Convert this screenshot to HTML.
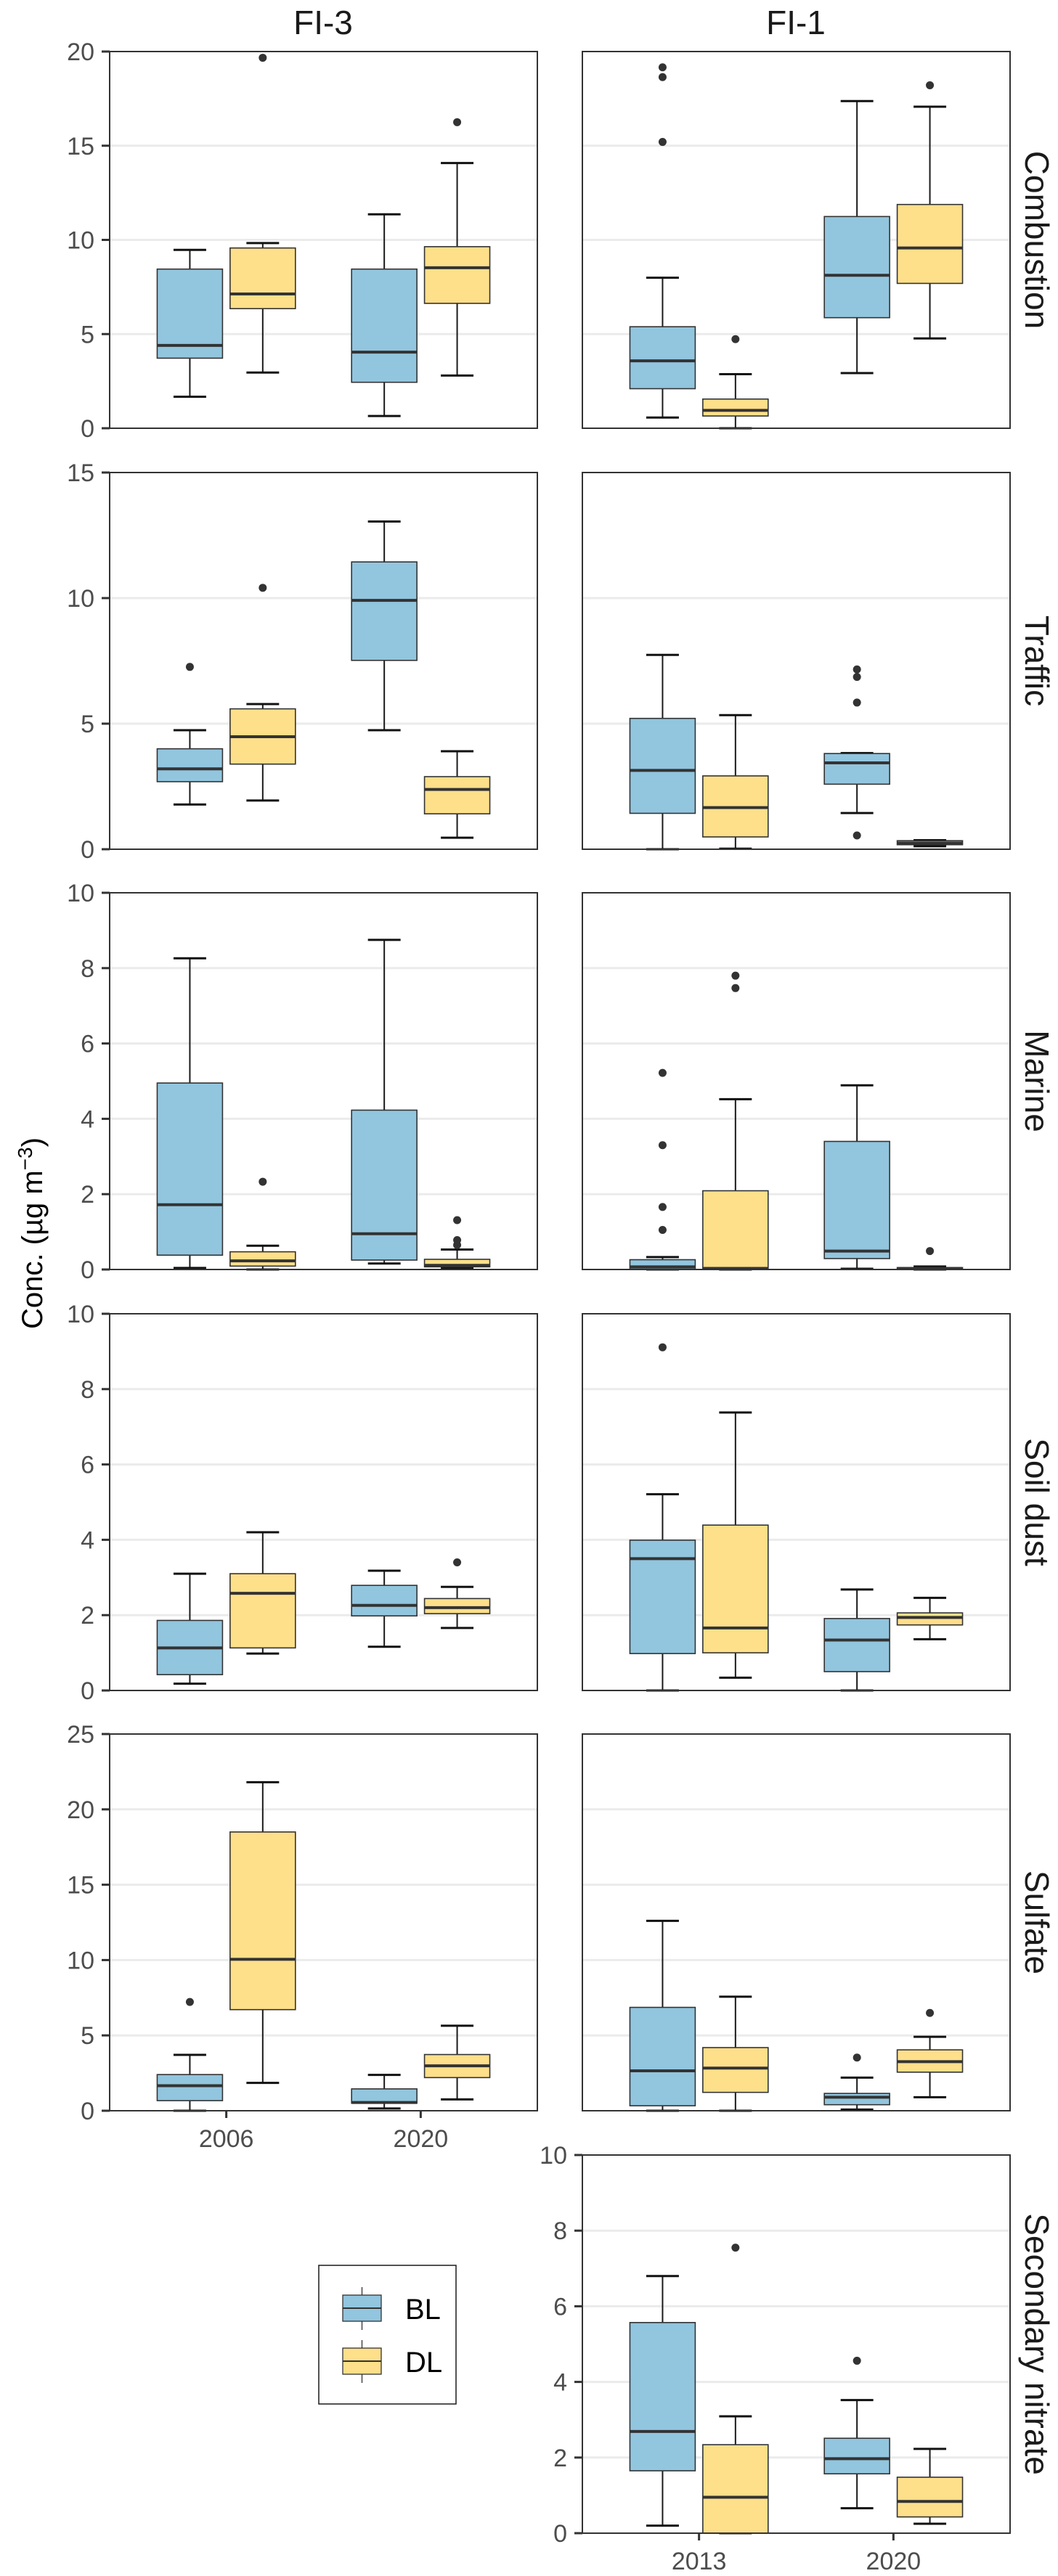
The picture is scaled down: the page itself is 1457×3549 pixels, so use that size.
<!DOCTYPE html>
<html><head><meta charset="utf-8">
<style>
html,body{margin:0;padding:0;background:#fff;}
svg{display:block;font-family:"Liberation Sans",Arial,sans-serif;}
</style></head>
<body>
<svg id="chart" width="1457" height="3549" viewBox="0 0 1457 3549" xmlns="http://www.w3.org/2000/svg">
  <text x="445" y="47" font-size="46" text-anchor="middle" fill="#1a1a1a">FI-3</text>
  <text x="1096" y="47" font-size="46" text-anchor="middle" fill="#1a1a1a">FI-1</text>
  <text transform="translate(58,1699) rotate(-90)" font-size="40" text-anchor="middle" fill="#000">Conc. (µg m<tspan dy="-14" font-size="28">−3</tspan><tspan dy="14">)</tspan></text>
  <g id="panels"></g>
  <g>
    <rect x="439" y="3121" width="189" height="191" fill="#fff" stroke="#1a1a1a" stroke-width="1.5"/>
    <g>
      <line x1="498.5" y1="3151" x2="498.5" y2="3210" stroke="#333" stroke-width="1.3"/>
      <rect x="472" y="3162" width="53" height="36" fill="#92C5DE" stroke="#333" stroke-width="1.3"/>
      <line x1="472" y1="3180" x2="525" y2="3180" stroke="#333" stroke-width="2"/>
      <text x="558" y="3195" font-size="40" fill="#000">BL</text>
    </g>
    <g>
      <line x1="498.5" y1="3224" x2="498.5" y2="3283" stroke="#333" stroke-width="1.3"/>
      <rect x="472" y="3235" width="53" height="36" fill="#FEDF8A" stroke="#333" stroke-width="1.3"/>
      <line x1="472" y1="3253" x2="525" y2="3253" stroke="#333" stroke-width="2"/>
      <text x="558" y="3268" font-size="40" fill="#000">DL</text>
    </g>
  </g>
</svg>
<script>
// group order in each panel: [year1 BL, year1 DL, year2 BL, year2 DL]; stats: [low, q1, median, q3, high]
const combustionFI3 = [[1.67,3.72,4.4,8.45,9.47],[2.96,6.35,7.13,9.57,9.83],[0.65,2.44,4.04,8.45,11.36],[2.8,6.63,8.52,9.64,14.08]];
const combustionFI3Out = [[],[19.67],[],[16.25]];
const combustionFI1 = [[0.57,2.1,3.58,5.39,7.99],[0,0.65,0.95,1.55,2.87],[2.93,5.87,8.12,11.24,17.37],[4.77,7.69,9.57,11.88,17.07]];
const combustionFI1Out = [[19.16,18.64,15.2],[4.73],[],[18.21]];
const trafficFI3 = [[1.78,2.69,3.2,4.0,4.74],[1.94,3.39,4.48,5.59,5.78],[4.74,7.52,9.91,11.44,13.05],[0.46,1.41,2.38,2.89,3.9]];
const trafficFI3Out = [[7.26],[10.41],[],[]];
const trafficFI1 = [[0,1.43,3.14,5.21,7.74],[0.02,0.49,1.66,2.92,5.34],[1.44,2.59,3.44,3.81,3.83],[0.12,0.18,0.25,0.34,0.36]];
const trafficFI1Out = [[],[],[7.16,6.86,5.84,0.55],[]];
const marineFI3 = [[0.04,0.38,1.72,4.95,8.26],[0,0.09,0.23,0.47,0.63],[0.16,0.25,0.95,4.23,8.75],[0.03,0.07,0.11,0.27,0.53]];
const marineFI3Out = [[],[2.33],[],[1.31,0.78,0.65]];
const marineFI1 = [[0,0.01,0.07,0.26,0.33],[0,0.01,0.03,2.09,4.52],[0.02,0.29,0.49,3.4,4.89],[0,0.01,0.03,0.05,0.08]];
const marineFI1Out = [[5.22,3.3,1.66,1.05],[7.8,7.47],[],[0.49]];
const soilFI3 = [[0.18,0.42,1.13,1.86,3.1],[0.98,1.13,2.58,3.1,4.2],[1.16,1.98,2.26,2.79,3.18],[1.66,2.04,2.2,2.44,2.75]];
const soilFI3Out = [[],[],[],[3.4]];
const soilFI1 = [[0,0.98,3.5,3.99,5.21],[0.34,1.0,1.66,4.39,7.38],[0,0.5,1.34,1.91,2.68],[1.36,1.74,1.94,2.06,2.46]];
const soilFI1Out = [[9.11],[],[],[]];
const sulfateFI3 = [[0,0.67,1.66,2.4,3.71],[1.85,6.71,10.05,18.5,21.8],[0.15,0.5,0.55,1.45,2.38],[0.75,2.2,2.98,3.73,5.64]];
const sulfateFI3Out = [[7.22],[],[],[]];
const sulfateFI1 = [[0,0.33,2.65,6.86,12.6],[0,1.22,2.83,4.19,7.57],[0.08,0.4,0.9,1.15,2.2],[0.9,2.56,3.26,4.04,4.91]];
const sulfateFI1Out = [[],[],[3.53],[6.49]];
const nitrateFI1 = [[0.2,1.65,2.69,5.57,6.8],[0,0,0.95,2.34,3.09],[0.66,1.57,1.97,2.51,3.52],[0.25,0.43,0.84,1.48,2.23]];
const nitrateFI1Out = [[],[7.55],[4.56],[]];
const yearsFI3 = ["2006","2020"];
const yearsFI1 = ["2013","2020"];
const combustionTicks = [0,5,10,15,20];
const trafficTicks = [0,5,10,15];
const marineTicks = [0,2,4,6,8,10];
const soilTicks = [0,2,4,6,8,10];
const sulfateTicks = [0,5,10,15,20,25];
const nitrateTicks = [0,2,4,6,8,10];

const NS = "http://www.w3.org/2000/svg";
const root = document.getElementById("panels");
function mk(tag, attrs, parent){ const e=document.createElementNS(NS,tag); for(const k in attrs) e.setAttribute(k,attrs[k]); parent.appendChild(e); return e; }

const COLS = [151, 802], PW = 589;
const ROWS = [71, 651, 1230, 1810, 2389, 2969], PH = 519;
const FILL = ["#92C5DE", "#FEDF8A"];

const panelDefs = [
  {key:"combustion-fi3", row:0,col:0,stats:combustionFI3,out:combustionFI3Out,ticks:combustionTicks,labels:true},
  {key:"combustion-fi1", row:0,col:1,stats:combustionFI1,out:combustionFI1Out,ticks:combustionTicks,labels:false,strip:"Combustion"},
  {key:"traffic-fi3", row:1,col:0,stats:trafficFI3,out:trafficFI3Out,ticks:trafficTicks,labels:true},
  {key:"traffic-fi1", row:1,col:1,stats:trafficFI1,out:trafficFI1Out,ticks:trafficTicks,labels:false,strip:"Traffic"},
  {key:"marine-fi3", row:2,col:0,stats:marineFI3,out:marineFI3Out,ticks:marineTicks,labels:true},
  {key:"marine-fi1", row:2,col:1,stats:marineFI1,out:marineFI1Out,ticks:marineTicks,labels:false,strip:"Marine"},
  {key:"soil-fi3", row:3,col:0,stats:soilFI3,out:soilFI3Out,ticks:soilTicks,labels:true},
  {key:"soil-fi1", row:3,col:1,stats:soilFI1,out:soilFI1Out,ticks:soilTicks,labels:false,strip:"Soil dust"},
  {key:"sulfate-fi3", row:4,col:0,stats:sulfateFI3,out:sulfateFI3Out,ticks:sulfateTicks,labels:true,xcats:yearsFI3},
  {key:"sulfate-fi1", row:4,col:1,stats:sulfateFI1,out:sulfateFI1Out,ticks:sulfateTicks,labels:false,strip:"Sulfate"},
  {key:"nitrate-fi1", row:5,col:1,stats:nitrateFI1,out:nitrateFI1Out,ticks:nitrateTicks,labels:true,strip:"Secondary nitrate",xcats:yearsFI1}
];

panelDefs.forEach(p=>{
  const x0 = COLS[p.col], y0 = ROWS[p.row], h = (p.row===5?521:PH);
  const maxV = p.ticks[p.ticks.length-1];
  const ys = v => y0 + h - v/maxV*h;
  const unit = PW/2.2;
  const xs = gi => x0 + (0.6 + Math.floor(gi/2))*unit + (gi%2===0?-0.1875:0.1875)*unit;
  const g = mk("g",{},root);
  
  
  mk("rect",{x:x0,y:y0,width:PW,height:h,fill:"#fff"},g);
  p.ticks.forEach(t=>{
    if(t>0 && t<maxV){
      const gl = mk("line",{x1:x0,x2:x0+PW,y1:ys(t),y2:ys(t),stroke:"#ebebeb","stroke-width":3},g);
      
      
    }
    if(p.labels){
      mk("line",{x1:x0-11,x2:x0,y1:ys(t),y2:ys(t),stroke:"#333","stroke-width":3},g);
      const tl = mk("text",{x:x0-21,y:ys(t)+12,"font-size":34,"text-anchor":"end",fill:"#4d4d4d"},g);
      tl.textContent = t;
      
      
    }
  });
  p.stats.forEach((s,gi)=>{
    const cx = xs(gi), bw = 0.336*unit, cw = 0.168*unit;
    const bg = mk("g",{},g);
    
    
    const st = {stroke:"#1a1a1a","stroke-width":2};
    mk("line",Object.assign({x1:cx,x2:cx,y1:ys(s[3]),y2:ys(s[4])},st),bg);
    mk("line",Object.assign({x1:cx,x2:cx,y1:ys(s[1]),y2:ys(s[0])},st),bg);
    mk("line",{x1:cx-cw/2,x2:cx+cw/2,y1:ys(s[4]),y2:ys(s[4]),stroke:"#111","stroke-width":3},bg);
    mk("line",{x1:cx-cw/2,x2:cx+cw/2,y1:ys(s[0]),y2:ys(s[0]),stroke:"#111","stroke-width":3},bg);
    mk("rect",{x:cx-bw/2,y:ys(s[3]),width:bw,height:Math.max(ys(s[1])-ys(s[3]),0.5),fill:FILL[gi%2],stroke:"#333","stroke-width":1.6},bg);
    mk("line",{x1:cx-bw/2,x2:cx+bw/2,y1:ys(s[2]),y2:ys(s[2]),stroke:"#333","stroke-width":4},bg);
    (p.out[gi]||[]).forEach(o=>{
      const c = mk("circle",{cx:cx,cy:ys(o),r:5.5,fill:"#333"},bg);
      
      
    });
  });
  const fr = mk("rect",{x:x0,y:y0,width:PW,height:h,fill:"none",stroke:"#333","stroke-width":2},g);
  
  
  if(p.strip){
    const sx = 1412, sy = y0 + h/2;
    const stx = mk("text",{transform:`translate(${sx},${sy}) rotate(90)`,"font-size":46,"text-anchor":"middle",fill:"#1a1a1a"},root);
    stx.textContent = p.strip;
    
    
  }
  if(p.xcats){
    p.xcats.forEach((c,i)=>{
      const xc = x0 + (0.6+i)*unit;
      mk("line",{x1:xc,x2:xc,y1:y0+h,y2:y0+h+10,stroke:"#333","stroke-width":3},g);
      const xl = mk("text",{x:xc,y:y0+h+50,"font-size":34,"text-anchor":"middle",fill:"#4d4d4d"},g);
      xl.textContent = c;
      
      
    });
  }
});
</script>
</body></html>
